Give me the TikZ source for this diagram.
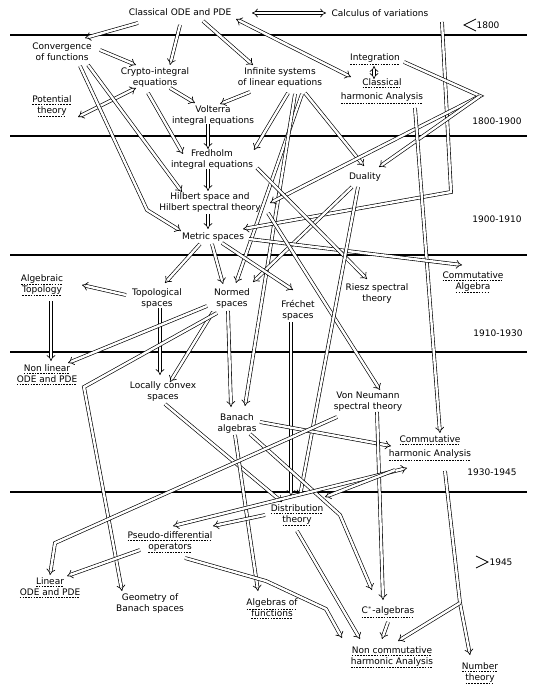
\documentclass[tikz,border=0pt]{standalone}
\usepackage{fontspec}
\setmainfont{DejaVu Sans}
\usetikzlibrary{arrows.meta}
\newcommand\dul[1]{\setbox0\hbox{#1}\vtop{\offinterlineskip\copy0\kern1.3pt\hbox to\wd0{\xleaders\hbox{\vrule width 1.6pt height 0.5pt\hskip1.1pt}\hfil}}}
\begin{document}
\begin{tikzpicture}[x=1pt,y=-1pt,
  lbl/.style={font=\fontsize{9}{11}\selectfont, align=center, inner sep=1pt},
  era/.style={font=\fontsize{9}{10}\selectfont, inner sep=1pt},
  arr/.style={double, double distance=2.4pt, line width=0.65pt, -{Implies[scale=1.3]}},
  darr/.style={double, double distance=2.4pt, line width=0.65pt, {Implies[scale=1.3]}-{Implies[scale=1.3]}},
  rule/.style={line width=1.1pt},
  chev/.style={line width=0.8pt}
]
\useasboundingbox[fill=white] (0,0) rectangle (540,700);
% horizontal rules
\draw[rule] (10,35) -- (527,35);
\draw[rule] (10,136) -- (527,136);
\draw[rule] (10,255) -- (527,255);
\draw[rule] (10,352) -- (527,352);
\draw[rule] (10,492) -- (527,492);
% era labels
\draw[chev] (476,19) -- (464,25) -- (476,31);
\node[era] (e1) at (488,25) {1800};
\node[era] (e2) at (497,121) {1800-1900};
\node[era] (e3) at (497,219) {1900-1910};
\node[era] (e4) at (498,333) {1910-1930};
\node[era] (e5) at (492,472) {1930-1945};
\draw[chev] (476,556) -- (488,562) -- (476,568);
\node[era] (e6) at (501,562) {1945};
% nodes
\node[lbl] (ode) at (180,12) {Classical ODE and PDE};
\node[lbl] (calc) at (380,13) {Calculus of variations};
\node[lbl] (conv) at (62,52) {Convergence\\of functions};
\node[lbl] (crypto) at (155,78) {Crypto-integral\\equations};
\node[lbl] (inf) at (280,78) {Infinite systems\\of linear equations};
\node[lbl] (pot) at (52,106) {\dul{Potential}\\\dul{theory}};
\node[lbl] (volt) at (213,116) {Volterra\\integral equations};
\node[lbl] (integ) at (375,59) {\dul{Integration}};
\node[lbl] (clh) at (382,91) {\dul{Classical}\\[3pt]\dul{harmonic Analysis}};
\node[lbl] (fred) at (212,160) {Fredholm\\integral equations};
\node[lbl] (hilb) at (210,203) {Hilbert space and\\Hilbert spectral theory};
\node[lbl] (metric) at (213,237) {Metric spaces};
\node[lbl] (dual) at (365,177) {Duality};
\node[lbl] (calg) at (473,282) {\dul{Commutative}\\\dul{Algebra}};
\node[lbl] (atop) at (42,285) {\dul{Algebraic}\\\dul{Topology}};
\node[lbl] (topo) at (157,299) {Topological\\spaces};
\node[lbl] (normed) at (232,299) {Normed\\spaces};
\node[lbl] (frech) at (298,310) {Fréchet\\spaces};
\node[lbl] (riesz) at (377,294) {Riesz spectral\\theory};
\node[lbl] (nlode) at (47,375) {\dul{Non linear}\\\dul{ODE and PDE}};
\node[lbl] (lcs) at (163,392) {Locally convex\\spaces};
\node[lbl] (vn) at (368,402) {Von Neumann\\spectral theory};
\node[lbl] (banach) at (237,424) {Banach\\algebras};
\node[lbl] (charm) at (430,448) {\dul{Commutative}\\[3pt]\dul{harmonic Analysis}};
\node[lbl] (dist) at (297,515) {\dul{Distribution}\\\dul{theory}};
\node[lbl] (pseudo) at (170,542) {\dul{Pseudo-differential}\\\dul{operators}};
\node[lbl] (lode) at (50,588) {\dul{Linear}\\\dul{ODE and PDE}};
\node[lbl] (geom) at (150,604) {Geometry of\\Banach spaces};
\node[lbl] (algf) at (272,609) {\dul{Algebras of}\\\dul{functions}};
\node[lbl] (cstar) at (388,612) {\dul{C$^{*}$-algebras}};
\node[lbl] (ncha) at (392,657) {\dul{Non commutative}\\\dul{harmonic Analysis}};
\node[lbl] (num) at (480,673) {\dul{Number}\\\dul{theory}};
% bend points
\coordinate (cmb) at (147,210);
\coordinate (cvb) at (451,192);
\coordinate (ib) at (480,96);
\coordinate (ngb) at (84,387);
\coordinate (bcb) at (340,515);
\coordinate (vlb) at (55,543);
\coordinate (pnb1) at (266,581);
\coordinate (pnb2) at (326,609);
\coordinate (cnb) at (460,603);
% connectors
\draw[darr] ([shift={(72,1)}]ode.center) -- ([shift={(-54,0)}]calc.center);
\draw[arr] ([shift={(-42,11)}]ode.center) -- ([shift={(23,-14)}]conv.center);
\draw[arr] ([shift={(0,13)}]ode.center) -- ([shift={(15,-13)}]crypto.center);
\draw[arr] ([shift={(23,9)}]ode.center) -- ([shift={(-27,-13)}]inf.center);
\draw[darr] ([shift={(56,7)}]ode.center) -- ([shift={(-31,-14)}]clh.center);
\draw[darr] ([shift={(-1,7)}]integ.center) -- ([shift={(-8,-12)}]clh.center);
\draw[arr] ([shift={(38,-2)}]conv.center) -- ([shift={(-19,-13)}]crypto.center);
\draw[darr] ([shift={(-19,10)}]crypto.center) -- ([shift={(26,11)}]pot.center);
\draw[arr] ([shift={(15,10)}]crypto.center) -- ([shift={(-18,-13)}]volt.center);
\draw[arr] ([shift={(-30,14)}]inf.center) -- ([shift={(7,-12)}]volt.center);
\draw[arr] ([shift={(-7,15)}]crypto.center) -- ([shift={(-29,-6)}]fred.center);
\draw[arr] ([shift={(26,13)}]conv.center) -- ([shift={(-28,-11)}]hilb.center);
\draw[arr] ([shift={(18,14)}]conv.center) -- (cmb) -- ([shift={(-32,-6)}]metric.center);
\draw[arr] ([shift={(-5,8)}]volt.center) -- ([shift={(-4,-11)}]fred.center);
\draw[arr] ([shift={(-4,9)}]fred.center) -- ([shift={(-2,-12)}]hilb.center);
\draw[arr] ([shift={(-2,11)}]hilb.center) -- ([shift={(-5,-8)}]metric.center);
\draw[arr] ([shift={(8,15)}]inf.center) -- ([shift={(42,-10)}]fred.center);
\draw[arr] ([shift={(25,15)}]inf.center) -- ([shift={(-1,-11)}]dual.center);
\draw[arr] ([shift={(22,16)}]inf.center) -- ([shift={(4,-16)}]normed.center);
\draw[arr] ([shift={(15,16)}]inf.center) -- ([shift={(8,-18)}]banach.center);
\draw[arr] ([shift={(62,9)}]calc.center) -- (cvb) -- ([shift={(30,-8)}]metric.center);
\draw[arr] ([shift={(29,3)}]integ.center) -- (ib) -- ([shift={(60,0)}]hilb.center);
\draw[arr] (ib) -- ([shift={(14,-10)}]dual.center);
\draw[arr] ([shift={(33,17)}]clh.center) -- ([shift={(10,-15)}]charm.center);
\draw[arr] ([shift={(-13,10)}]dual.center) -- ([shift={(21,-17)}]normed.center);
\draw[arr] ([shift={(-13,7)}]metric.center) -- ([shift={(8,-16)}]topo.center);
\draw[arr] ([shift={(-1,7)}]metric.center) -- ([shift={(-9,-15)}]normed.center);
\draw[arr] ([shift={(9,6)}]metric.center) -- ([shift={(-5,-20)}]frech.center);
\draw[arr] ([shift={(36,2)}]metric.center) -- ([shift={(-11,-17)}]calg.center);
\draw[arr] ([shift={(45,8)}]fred.center) -- ([shift={(-10,-15)}]riesz.center);
\draw[arr] ([shift={(58,10)}]hilb.center) -- ([shift={(12,-12)}]vn.center);
\draw[arr] ([shift={(-7,10)}]dual.center) -- ([shift={(3,-19)}]dist.center);
\draw[arr] ([shift={(-7,12)}]frech.center) -- ([shift={(-6,-19)}]dist.center);
\draw[arr] ([shift={(-31,-4)}]topo.center) -- ([shift={(40,0)}]atop.center);
\draw[arr] ([shift={(3,9)}]topo.center) -- ([shift={(-3,-17)}]lcs.center);
\draw[arr] ([shift={(-19,13)}]normed.center) -- ([shift={(7,-10)}]lcs.center);
\draw[arr] ([shift={(-25,7)}]normed.center) -- ([shift={(21,-12)}]nlode.center);
\draw[arr] ([shift={(9,16)}]atop.center) -- ([shift={(4,-14)}]nlode.center);
\draw[arr] ([shift={(-15,14)}]normed.center) -- (ngb) -- ([shift={(-28,-13)}]geom.center);
\draw[arr] ([shift={(-4,12)}]normed.center) -- ([shift={(-6,-17)}]banach.center);
\draw[arr] ([shift={(2,12)}]lcs.center) -- ([shift={(-15,-13)}]dist.center);
\draw[arr] ([shift={(23,-2)}]banach.center) -- ([shift={(-39,-2)}]charm.center);
\draw[arr] ([shift={(-2,11)}]banach.center) -- ([shift={(-14,-18)}]algf.center);
\draw[arr] ([shift={(13,10)}]banach.center) -- (bcb) -- ([shift={(-16,-22)}]cstar.center);
\draw[arr] ([shift={(9,10)}]vn.center) -- ([shift={(-5,-12)}]cstar.center);
\draw[arr] ([shift={(-31,15)}]vn.center) -- (vlb) -- ([shift={(0,-13)}]lode.center);
\draw[darr] ([shift={(-23,20)}]charm.center) -- ([shift={(3,-16)}]pseudo.center);
\draw[arr] ([shift={(-32,0)}]dist.center) -- ([shift={(43,-16)}]pseudo.center);
\draw[arr] ([shift={(-35,22)}]charm.center) -- ([shift={(28,-18)}]dist.center);
\draw[arr] ([shift={(-30,8)}]pseudo.center) -- ([shift={(17,-12)}]lode.center);
\draw[arr] ([shift={(15,16)}]pseudo.center) -- (pnb1) -- (pnb2) -- ([shift={(-50,-19)}]ncha.center);
\draw[arr] ([shift={(0,16)}]dist.center) -- ([shift={(-32,-18)}]ncha.center);
\draw[arr] ([shift={(0,10)}]cstar.center) -- ([shift={(-10,-18)}]ncha.center);
\draw[arr] ([shift={(15,23)}]charm.center) -- (cnb) -- ([shift={(-10,-18)}]num.center);
\draw[arr] (cnb) -- ([shift={(6,-16)}]ncha.center);
\end{tikzpicture}
\end{document}
